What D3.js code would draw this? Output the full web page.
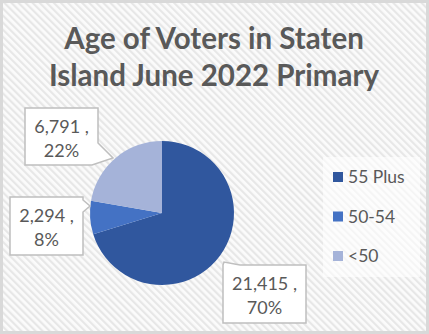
<!DOCTYPE html>
<html>
<head>
<meta charset="utf-8">
<script src="https://cdn.jsdelivr.net/npm/d3@7/dist/d3.min.js"></script>
<style>
  html, body { margin: 0; padding: 0; background: #fff; }
  svg { display: block; }
  text { font-family: Lato, "Open Sans", sans-serif; }
</style>
</head>
<body>
<script>
// Age groups of Staten Island voters, June 2022 primary
const categories = ["55 Plus", "50-54", "<50"];
const voters = [21415, 2294, 6791];
const percentLabels = ["70%", "8%", "22%"];
const colors = ["#30579E", "#4472C4", "#A5B3D9"];
const titleLines = ["Age of Voters in Staten", "Island June 2022 Primary"];

const W = 429, H = 334;
const svg = d3.select("body").append("svg").attr("width", W).attr("height", H);

// striped chart-area background
const defs = svg.append("defs");
const pat = defs.append("pattern")
  .attr("id", "stripes").attr("patternUnits", "userSpaceOnUse")
  .attr("width", 5).attr("height", 5)
  .attr("patternTransform", "rotate(-45)");
pat.append("rect").attr("width", 5).attr("height", 5).attr("fill", "#fbfbfb");
pat.append("rect").attr("width", 2.2).attr("height", 5).attr("fill", "#e7e7e7");

svg.append("rect").attr("x", 0).attr("y", 0).attr("width", W).attr("height", H)
  .attr("fill", "url(#stripes)");
svg.append("rect").attr("x", 1.5).attr("y", 1.5).attr("width", W - 3).attr("height", H - 3)
  .attr("fill", "none").attr("stroke", "#d9d9d9").attr("stroke-width", 3);

// title
svg.append("g").selectAll("text").data(titleLines).join("text")
  .attr("x", 214).attr("y", (d, i) => 49 + i * 37)
  .attr("text-anchor", "middle")
  .attr("font-size", 29.5).attr("font-weight", 700)
  .attr("fill", "#595959")
  .text(d => d);

// pie
const cx = 162, cy = 213, r = 72;
const pie = d3.pie().sort(null).value(d => d)(voters);
const arc = d3.arc().innerRadius(0).outerRadius(r);
svg.append("g").attr("transform", `translate(${cx},${cy})`)
  .selectAll("path").data(pie).join("path")
  .attr("d", arc)
  .attr("fill", (d, i) => colors[i]);

// callout data labels: box plus wedge pointing to the slice
const fmt = d3.format(",");
const callouts = [
  { i: 0, box: [223, 265, 83, 58], path: "M223,265 L224,262 L240,265 H306 V323 H223 Z" },
  { i: 1, box: [10, 197, 73, 58], path: "M10,197 H83 V200 L90,206 L83,212 V255 H10 Z" },
  { i: 2, box: [25, 108, 73, 57], path: "M25,108 H98 V143 L113,158 L92,165 H25 Z" }
];
const cg = svg.append("g");
callouts.forEach(c => {
  cg.append("path").attr("d", c.path)
    .attr("fill", "#ffffff").attr("stroke", "#bfbfbf").attr("stroke-width", 1.5);
  const [x, y, w, h] = c.box;
  const lines = [fmt(voters[c.i]) + " ,", percentLabels[c.i]];
  cg.selectAll(null).data(lines).enter().append("text")
    .attr("x", x + w / 2).attr("y", (d, k) => y + h / 2 - 4 + k * 24)
    .attr("text-anchor", "middle")
    .attr("font-size", 18).attr("fill", "#595959")
    .text(d => d);
});

// legend
svg.append("rect").attr("x", 323).attr("y", 157).attr("width", 97).attr("height", 120)
  .attr("fill", "#ffffff").attr("opacity", 0.6);
const lg = svg.append("g").selectAll("g").data(categories).join("g")
  .attr("transform", (d, i) => `translate(333,${172 + i * 39.5})`);
lg.append("rect").attr("width", 10).attr("height", 10).attr("fill", (d, i) => colors[i]);
lg.append("text").attr("x", 15).attr("y", 11)
  .attr("font-size", 17.5).attr("fill", "#595959").text(d => d);
</script>
</body>
</html>
